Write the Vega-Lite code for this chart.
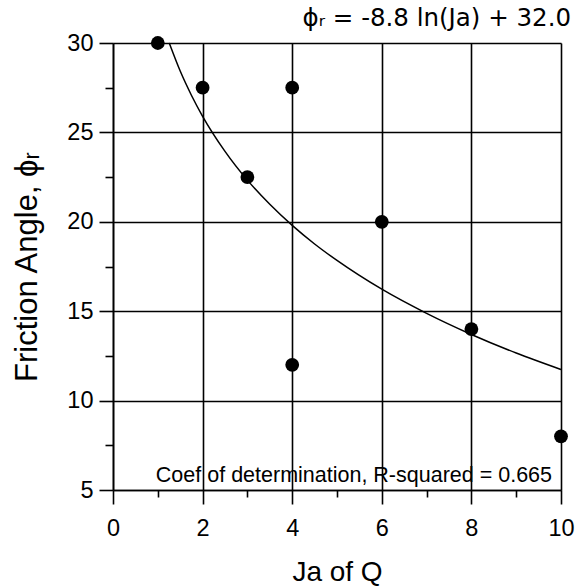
{
  "$schema": "https://vega.github.io/schema/vega-lite/v6.json",
  "width": 448,
  "height": 447,
  "autosize": {"type": "none"},
  "padding": {"left": 113, "top": 43, "right": 15, "bottom": 98},
  "background": "white",
  "config": {
    "font": "Liberation Sans",
    "view": {"stroke": null},
    "axis": {"domainColor": "black", "tickColor": "black", "gridColor": "black", "labelColor": "black", "titleColor": "black", "labelFont": "Liberation Sans", "titleFont": "Liberation Sans", "titleFontWeight": "normal"}
  },
  "title": {"text": "ϕᵣ = -8.8 ln(Ja) + 32.0", "anchor": "end", "fontSize": 24.5, "fontWeight": "normal", "color": "black", "offset": 0, "dx": -3, "font": "DejaVu Sans"},
  "datasets": {
    "points": [
      {"ja": 1, "phi": 30},
      {"ja": 2, "phi": 27.5},
      {"ja": 3, "phi": 22.5},
      {"ja": 4, "phi": 27.5},
      {"ja": 4, "phi": 12},
      {"ja": 6, "phi": 20},
      {"ja": 8, "phi": 14},
      {"ja": 10, "phi": 8}
    ],
    "fit": [
      {"ja": 1.255, "phi": 30.0},
      {"ja": 1.5, "phi": 28.43},
      {"ja": 1.75, "phi": 27.08},
      {"ja": 2, "phi": 25.9},
      {"ja": 2.5, "phi": 23.94},
      {"ja": 3, "phi": 22.33},
      {"ja": 3.5, "phi": 20.98},
      {"ja": 4, "phi": 19.8},
      {"ja": 4.5, "phi": 18.76},
      {"ja": 5, "phi": 17.84},
      {"ja": 6, "phi": 16.23},
      {"ja": 7, "phi": 14.88},
      {"ja": 8, "phi": 13.7},
      {"ja": 9, "phi": 12.66},
      {"ja": 10, "phi": 11.74}
    ],
    "note": [
      {"ja": 9.8, "phi": 5.45, "label": "Coef of determination, R-squared = 0.665"}
    ]
  },
  "encoding": {
    "x": {
      "field": "ja", "type": "quantitative",
      "scale": {"domain": [0, 10], "nice": false, "zero": false},
      "axis": {
        "title": "Ja of Q", "titleFontSize": 28, "titlePadding": 19,
        "values": [0, 1, 2, 3, 4, 5, 6, 7, 8, 9, 10],
        "labelExpr": "datum.value % 2 === 0 ? datum.label : ''",
        "labelFontSize": 23.5, "labelPadding": 12, "labelFlush": false,
        "grid": true,
        "gridOpacity": {"condition": {"test": "datum.value % 2 === 0", "value": 1}, "value": 0},
        "gridWidth": 1.6,
        "tickSize": {"condition": {"test": "datum.value % 2 === 0", "value": 14}, "value": 7},
        "tickWidth": 1.6, "domainWidth": 1.6
      }
    },
    "y": {
      "field": "phi", "type": "quantitative",
      "scale": {"domain": [5, 30], "nice": false, "zero": false},
      "axis": {
        "title": "Friction Angle, ϕᵣ", "titleFontSize": 31, "titlePadding": 23,
        "values": [5, 7.5, 10, 12.5, 15, 17.5, 20, 22.5, 25, 27.5, 30],
        "labelExpr": "datum.value % 5 === 0 ? datum.label : ''",
        "labelFontSize": 23.5, "labelPadding": 6, "labelFlush": false,
        "grid": true,
        "gridOpacity": {"condition": {"test": "datum.value % 5 === 0", "value": 1}, "value": 0},
        "gridWidth": 1.6,
        "tickSize": {"condition": {"test": "datum.value % 5 === 0", "value": 14}, "value": 8},
        "tickWidth": 1.6, "domainWidth": 1.6
      }
    }
  },
  "layer": [
    {
      "data": {"name": "fit"},
      "mark": {"type": "line", "color": "black", "strokeWidth": 1.5, "interpolate": "monotone"}
    },
    {
      "data": {"name": "points"},
      "mark": {"type": "point", "filled": true, "shape": "circle", "color": "black", "opacity": 1, "size": 190}
    },
    {
      "data": {"name": "note"},
      "mark": {"type": "text", "align": "right", "baseline": "alphabetic", "fontSize": 21.5, "color": "black", "font": "Liberation Sans"},
      "encoding": {"text": {"field": "label"}}
    }
  ]
}
